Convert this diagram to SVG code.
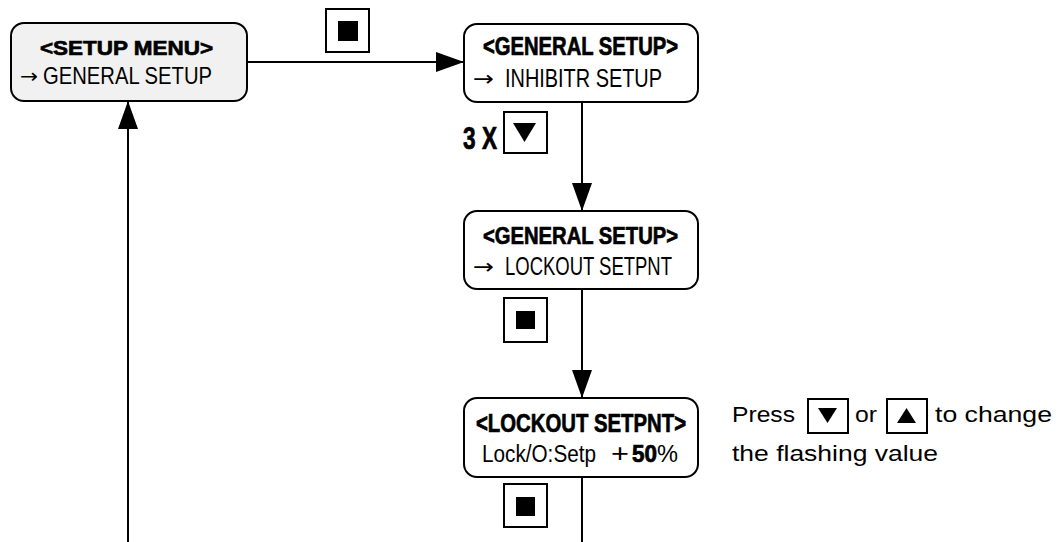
<svg xmlns="http://www.w3.org/2000/svg" width="1059" height="542" viewBox="0 0 1059 542">
<defs>
<style>
.box{fill:#fff;stroke:#000;stroke-width:2}
.gray{fill:#f1f1f1}
.btn{fill:#fff;stroke:#000;stroke-width:2}
.hd{font-family:"Liberation Sans",Arial,sans-serif;font-weight:bold;fill:#000;stroke:#000;stroke-width:0.7}
.tx{font-family:"Liberation Sans",Arial,sans-serif;fill:#000}
.ar{font-family:"DejaVu Sans",sans-serif;fill:#000}
.ln{fill:none;stroke:#000;stroke-width:2}
</style>
<marker id="ah" markerUnits="userSpaceOnUse" markerWidth="28" markerHeight="20" refX="28" refY="10" orient="auto">
<path d="M0,0 L28,10 L0,20 Z" fill="#000"/>
</marker>
</defs>
<rect width="1059" height="542" fill="#fff"/>

<g id="connectors">
<line class="ln" x1="247" y1="62" x2="464" y2="62" marker-end="url(#ah)"/>
<line class="ln" x1="582" y1="102" x2="582" y2="211" marker-end="url(#ah)"/>
<line class="ln" x1="582" y1="289" x2="582" y2="398" marker-end="url(#ah)"/>
<line class="ln" x1="582" y1="477" x2="582" y2="542"/>
<line class="ln" x1="128" y1="542" x2="128" y2="101" marker-end="url(#ah)"/>
</g>

<g id="setup-menu">
<rect class="box gray" x="11" y="23" width="236" height="78" rx="13"/>
<text class="hd" x="40" y="55" font-size="21" textLength="173" lengthAdjust="spacingAndGlyphs">&lt;SETUP  MENU&gt;</text>
<text class="ar" x="20" y="83" font-size="20" textLength="18" lengthAdjust="spacingAndGlyphs">→</text>
<text class="tx" x="43" y="84" font-size="24" textLength="169" lengthAdjust="spacingAndGlyphs">GENERAL  SETUP</text>
</g>

<g id="btn-enter-1">
<rect class="btn" x="326" y="9" width="43" height="43"/>
<rect x="338" y="21" width="20" height="20" fill="#000"/>
</g>

<g id="general-setup-1">
<rect class="box" x="464" y="24" width="234" height="78" rx="13"/>
<text class="hd" x="483" y="55" font-size="25" textLength="195" lengthAdjust="spacingAndGlyphs">&lt;GENERAL SETUP&gt;</text>
<text class="ar" x="473" y="86" font-size="21" textLength="21" lengthAdjust="spacingAndGlyphs">→</text>
<text class="tx" x="505" y="87" font-size="26" textLength="157" lengthAdjust="spacingAndGlyphs">INHIBITR  SETUP</text>
</g>

<g id="btn-down-3x">
<text class="hd" x="463" y="149" font-size="31" textLength="34" lengthAdjust="spacingAndGlyphs">3 X</text>
<rect class="btn" x="504" y="112" width="43" height="41"/>
<path d="M513,123 L536,123 L524.5,142 Z" fill="#000"/>
</g>

<g id="general-setup-2">
<rect class="box" x="464" y="211" width="234" height="78" rx="13"/>
<text class="hd" x="483" y="244" font-size="24" textLength="195" lengthAdjust="spacingAndGlyphs">&lt;GENERAL SETUP&gt;</text>
<text class="ar" x="473" y="274" font-size="21" textLength="21" lengthAdjust="spacingAndGlyphs">→</text>
<text class="tx" x="505" y="275" font-size="26" textLength="167" lengthAdjust="spacingAndGlyphs">LOCKOUT SETPNT</text>
</g>

<g id="btn-enter-2">
<rect class="btn" x="504" y="298" width="43" height="44"/>
<rect x="516" y="311" width="19" height="18" fill="#000"/>
</g>

<g id="lockout-setpnt">
<rect class="box" x="464" y="398" width="234" height="79" rx="13"/>
<text class="hd" x="476" y="432" font-size="26" textLength="210" lengthAdjust="spacingAndGlyphs">&lt;LOCKOUT SETPNT&gt;</text>
<text class="tx" x="482" y="462" font-size="23" textLength="114" lengthAdjust="spacingAndGlyphs">Lock/O:Setp</text>
<text class="tx" x="611" y="462" font-size="25" textLength="18" lengthAdjust="spacingAndGlyphs">+</text>
<text class="hd" x="632" y="462" font-size="23" textLength="25" lengthAdjust="spacingAndGlyphs">50</text>
<text class="tx" x="657" y="462" font-size="23" textLength="21" lengthAdjust="spacingAndGlyphs">%</text>
</g>

<g id="btn-enter-3">
<rect class="btn" x="504" y="484" width="43" height="43"/>
<rect x="516" y="497" width="19" height="19" fill="#000"/>
</g>

<g id="note">
<text class="tx" x="732" y="422" font-size="22.5" textLength="63" lengthAdjust="spacingAndGlyphs">Press</text>
<rect class="btn" x="808" y="399" width="40" height="34"/>
<path d="M818,408 L837,408 L827.5,423 Z" fill="#000"/>
<text class="tx" x="855" y="422" font-size="22.5" textLength="22" lengthAdjust="spacingAndGlyphs">or</text>
<rect class="btn" x="887" y="399" width="40" height="34"/>
<path d="M897,423 L916,423 L906.5,408 Z" fill="#000"/>
<text class="tx" x="935" y="422" font-size="22.5" textLength="117" lengthAdjust="spacingAndGlyphs">to change</text>
<text class="tx" x="732" y="461" font-size="22.5" textLength="206" lengthAdjust="spacingAndGlyphs">the flashing value</text>
</g>
</svg>
